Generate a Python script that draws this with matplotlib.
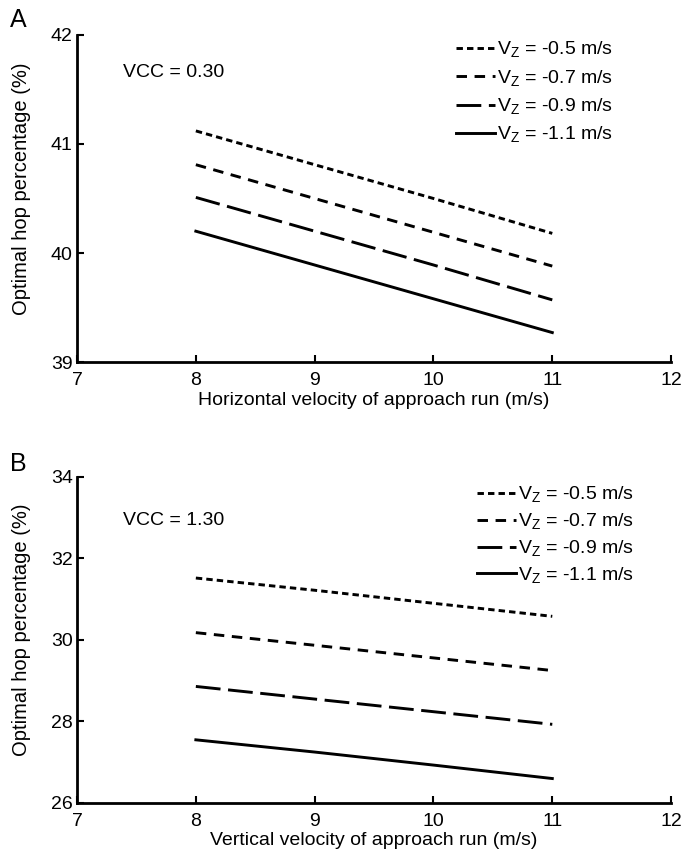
import matplotlib
matplotlib.use('Agg')
import matplotlib.pyplot as plt

plt.rcParams['font.family'] = ['Liberation Sans', 'DejaVu Sans']
plt.rcParams['mathtext.fontset'] = 'custom'
plt.rcParams['mathtext.rm'] = 'Liberation Sans'

# Data
run_speed = [8, 9, 10, 11]
vz_labels = ['-0.5', '-0.7', '-0.9', '-1.1']

# Panel A: VCC = 0.30, horizontal velocity
hop_a = {
    '-0.5': [41.12, 40.81, 40.50, 40.18],
    '-0.7': [40.81, 40.50, 40.19, 39.88],
    '-0.9': [40.51, 40.20, 39.89, 39.57],
    '-1.1': [40.20, 39.89, 39.58, 39.27],
}
# Panel B: VCC = 1.30, vertical velocity
hop_b = {
    '-0.5': [31.52, 31.22, 30.90, 30.58],
    '-0.7': [30.18, 29.87, 29.56, 29.25],
    '-0.9': [28.86, 28.55, 28.24, 27.93],
    '-1.1': [27.55, 27.25, 26.93, 26.60],
}

dash_styles = {
    '-0.5': (0, (2.2, 1.4)),
    '-0.7': (0, (3.6, 2.6)),
    '-0.9': (0, (8.5, 2.6)),
    '-1.1': '-',
}

fig = plt.figure(figsize=(6.94, 8.49), dpi=100)
ax_a = fig.add_axes([0.111, 0.5736, 0.856, 0.3852])
ax_b = fig.add_axes([0.111, 0.0542, 0.856, 0.3840])


def draw_panel(ax, data, ylim, yticks, xlabel, vcc, legend_x, legend_y,
               spacing, vcc_y):
    for vz in vz_labels:
        ax.plot(run_speed, data[vz], color='black', lw=2.1,
                linestyle=dash_styles[vz],
                label='V$_\\mathregular{Z}$ = ' + vz + ' m/s')
    ax.set_xlim(7, 12)
    ax.set_ylim(*ylim)
    ax.set_xticks([7, 8, 9, 10, 11, 12])
    ax.set_yticks(yticks)
    ax.spines['top'].set_visible(False)
    ax.spines['right'].set_visible(False)
    ax.spines['left'].set_linewidth(2)
    ax.spines['bottom'].set_linewidth(2)
    ax.tick_params(direction='in', length=5, width=1.5, labelsize=14)
    ax.tick_params(axis='x', pad=7)
    ax.tick_params(axis='y', pad=3)
    ax.set_xlabel(xlabel, fontsize=14, labelpad=2)
    ax.set_ylabel('Optimal hop percentage (%)', fontsize=14.5)
    ax.yaxis.set_label_coords(-0.078, 0.53)
    ax.text(0.077, vcc_y, vcc, transform=ax.transAxes, fontsize=14,
            va='center', ha='left')
    ax.legend(loc='upper left', bbox_to_anchor=(legend_x, legend_y),
              frameon=False, fontsize=14, handlelength=2.0,
              handletextpad=0.1, labelspacing=spacing, borderpad=0)


draw_panel(ax_a, hop_a, (39, 42), [39, 40, 41, 42],
           'Horizontal velocity of approach run (m/s)', 'VCC = 0.30',
           0.622, 1.015, 0.42, 0.885)
draw_panel(ax_b, hop_b, (26, 34), [26, 28, 30, 32, 34],
           'Vertical velocity of approach run (m/s)', 'VCC = 1.30',
           0.657, 1.005, 0.33, 0.868)

fig.text(0.014, 0.977, 'A', fontsize=18, va='center')
fig.text(0.014, 0.454, 'B', fontsize=18, va='center')

fig.savefig('out.png', dpi=100)
